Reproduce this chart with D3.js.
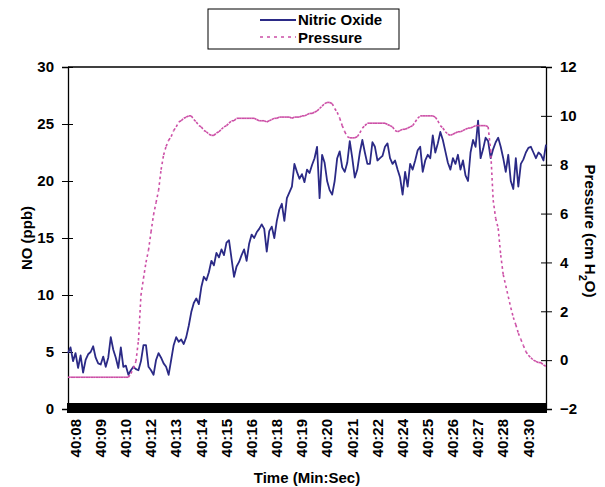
<!DOCTYPE html>
<html>
<head>
<meta charset="utf-8">
<script src="https://cdn.jsdelivr.net/npm/d3@7"></script>
<style>
  body { margin: 0; background: #fff; }
  svg { display: block; font-family: "Liberation Sans", Arial, sans-serif; font-weight: bold; }
</style>
</head>
<body>
<svg id="chart" width="605" height="487"></svg>
<script>
// NO readings (ppb), one per sample
const noValues = [
  4.9,5.4,4.2,4.9,3.6,4.7,3.2,4.3,4.8,5.0,
  5.5,4.5,4.0,3.9,4.6,3.7,4.5,6.3,5.2,4.5,
  3.6,5.4,3.7,3.8,3.0,3.4,3.7,3.5,3.4,4.2,
  5.6,5.6,3.7,3.4,3.0,4.3,4.9,4.5,4.0,3.7,
  3.0,4.3,5.6,6.3,5.9,6.1,5.7,6.3,7.3,8.5,
  9.3,9.7,9.2,10.7,11.6,11.3,12.0,13.0,12.6,13.7,
  13.3,14.0,13.5,14.6,14.8,13.2,11.6,12.5,12.9,13.5,
  14.0,13.0,14.5,15.3,15.0,15.5,15.8,16.2,15.8,13.8,
  15.6,16.0,15.0,16.5,17.5,18.0,16.5,18.5,19.0,19.5,
  21.5,20.8,20.2,20.6,19.9,21.0,20.7,21.4,22.0,23.0,
  18.5,22.3,21.6,20.0,19.2,18.8,20.0,22.0,22.6,21.2,
  20.8,21.6,23.5,22.0,20.3,21.0,22.5,23.6,22.5,21.5,
  21.5,23.4,23.0,21.8,22.0,22.2,23.0,23.3,22.0,21.5,
  21.8,21.0,20.3,18.8,20.8,19.5,21.5,21.0,21.8,22.7,
  23.0,20.8,21.8,22.3,22.0,24.0,22.5,23.3,24.3,23.6,
  22.6,21.6,21.0,22.0,21.5,22.3,21.0,21.8,20.5,20.0,
  22.5,23.6,23.0,25.3,22.0,22.8,23.8,23.5,22.0,22.8,
  23.4,23.8,23.0,22.0,20.8,22.3,20.0,19.3,22.0,19.5,
  21.5,21.9,22.5,22.9,23.0,22.5,22.0,22.5,22.3,21.8,23.2
];

// Pressure readings (cm H2O), same samples
const pressureValues = [
  -0.7,-0.7,-0.7,-0.7,-0.7,-0.7,-0.7,-0.7,-0.7,-0.7,
  -0.7,-0.7,-0.7,-0.7,-0.7,-0.7,-0.7,-0.7,-0.7,-0.7,
  -0.7,-0.7,-0.7,-0.7,-0.7,-0.55,-0.33,-0.05,0.8,2.65,
  3.35,4.0,4.5,5.25,5.95,6.45,6.95,7.8,8.4,8.75,
  9.0,9.15,9.4,9.55,9.75,9.8,9.9,9.95,10.0,10.0,
  9.85,9.75,9.6,9.55,9.4,9.35,9.25,9.2,9.2,9.3,
  9.35,9.45,9.55,9.6,9.7,9.8,9.8,9.9,9.9,9.9,
  9.9,9.9,9.9,9.9,9.9,9.85,9.8,9.8,9.8,9.75,
  9.8,9.85,9.9,9.9,9.95,9.95,9.95,9.95,9.95,9.9,
  9.95,9.95,9.95,10.0,10.0,10.05,10.1,10.1,10.15,10.2,
  10.3,10.4,10.5,10.55,10.55,10.5,10.3,10.15,9.9,9.6,
  9.35,9.15,9.1,9.1,9.1,9.15,9.3,9.5,9.6,9.7,
  9.7,9.7,9.7,9.7,9.7,9.7,9.7,9.65,9.6,9.55,
  9.4,9.35,9.4,9.45,9.45,9.5,9.55,9.6,9.75,9.9,
  10.0,10.0,10.0,10.0,10.0,10.0,9.95,9.8,9.6,9.5,
  9.35,9.25,9.2,9.25,9.3,9.35,9.35,9.4,9.45,9.5,
  9.5,9.55,9.6,9.6,9.6,9.6,9.6,9.55,8.6,6.55,
  5.8,5.4,4.3,3.5,3.05,2.6,2.15,1.75,1.45,1.1,
  0.85,0.6,0.35,0.2,0.1,0.0,-0.05,-0.1,-0.1,-0.2,-0.25
];

const timeLabels = ["40:08","40:09","40:10","40:12","40:13","40:14","40:15","40:16","40:18","40:19",
                    "40:20","40:21","40:22","40:24","40:25","40:26","40:27","40:28","40:30"];
// sample index at which each time label sits
const labelIdx = [2.8,12.8,22.8,32.8,42.8,52.8,62.8,72.8,82.8,92.8,
                  102.8,112.8,122.8,132.8,142.8,152.8,162.8,172.8,182.8];
const noTicks = [0,5,10,15,20,25,30];
const pTicks = [-2,0,2,4,6,8,10,12];

const noColor = "#2b2a86";
const pColor = "#cc4fa6";

const plotL = 68, plotR = 546, plotT = 67, plotB = 409;

const svg = d3.select("#chart");

var x = d3.scaleLinear().domain([0, noValues.length - 1]).range([plotL, plotR]);
var yL = d3.scaleLinear().domain([0, 30]).range([plotB, plotT]);
var yR = d3.scaleLinear().domain([-2, 12]).range([plotB, plotT]);

// top border
svg.append("line")
    .attr("x1", plotL).attr("x2", plotR)
    .attr("y1", plotT).attr("y2", plotT)
    .attr("stroke", "#000").attr("stroke-width", 1.3);

// left axis
var gl = svg.append("g")
    .attr("transform", "translate(" + plotL + ",0)")
    .call(d3.axisLeft(yL).tickValues(noTicks).tickSize(6).tickPadding(8));
gl.selectAll(".tick line").attr("x1", 5);
gl.select(".domain").attr("stroke-width", 1.3);
gl.selectAll("text").style("font-size", "15px").style("font-weight", "bold").attr("fill", "#000");

// right axis
var gr = svg.append("g")
    .attr("transform", "translate(" + plotR + ",0)")
    .call(d3.axisRight(yR).tickValues(pTicks).tickSize(6).tickPadding(8));
gr.selectAll(".tick line").attr("x1", -5);
gr.select(".domain").attr("stroke-width", 1.3);
gr.selectAll("text").style("font-size", "15px").style("font-weight", "bold").attr("fill", "#000");

// dense category ticks along the bottom make a solid band
svg.append("rect")
    .attr("x", plotL - 1).attr("y", plotB - 6)
    .attr("width", plotR - plotL + 2).attr("height", 10)
    .attr("fill", "#000");

// x labels
var gx = svg.append("g")
    .attr("transform", "translate(0," + (plotB + 4) + ")")
    .call(d3.axisBottom(x).tickValues(labelIdx).tickSize(0)
        .tickFormat((d, i) => timeLabels[i]));
gx.select(".domain").remove();
gx.selectAll("text")
    .style("font-size", "15px").style("font-weight", "bold").attr("fill", "#000")
    .attr("text-anchor", "end")
    .attr("transform", "rotate(-90)")
    .attr("x", -6).attr("y", 0).attr("dy", "0.35em");

// NO line
var noLine = d3.line()
    .x((d, i) => x(i))
    .y(d => yL(d));
svg.append("path")
    .datum(noValues)
    .attr("fill", "none")
    .attr("stroke", noColor)
    .attr("stroke-width", 1.8)
    .attr("stroke-linejoin", "round")
    .attr("d", noLine);

// pressure: dotted style restarts on every segment, so short steps look solid
var pLine = d3.line()
    .x(d => x(d[0]))
    .y(d => yR(d[1]));
var pPts = pressureValues.map((v, i) => [i, v]);
svg.append("g")
    .selectAll("path")
    .data(d3.pairs(pPts))
    .join("path")
    .attr("fill", "none")
    .attr("stroke", pColor)
    .attr("stroke-width", 1.6)
    .attr("stroke-dasharray", "2.6,3")
    .attr("d", pLine);

// axis titles
svg.append("text")
    .attr("transform", "translate(32,238) rotate(-90)")
    .attr("text-anchor", "middle")
    .style("font-size", "15px")
    .text("NO (ppb)");

var rt = svg.append("text")
    .attr("transform", "translate(585,231) rotate(90)")
    .attr("text-anchor", "middle")
    .style("font-size", "15px");
rt.append("tspan").text("Pressure (cm H");
rt.append("tspan").attr("baseline-shift", "sub").style("font-size", "11px").text("2");
rt.append("tspan").text("O)");

svg.append("text")
    .attr("x", 307).attr("y", 483)
    .attr("text-anchor", "middle")
    .style("font-size", "15px")
    .text("Time (Min:Sec)");

// legend
svg.append("rect")
    .attr("x", 208).attr("y", 9)
    .attr("width", 191).attr("height", 40)
    .attr("fill", "#fff").attr("stroke", "#000").attr("stroke-width", 1);

var legend = svg.append("g");
legend.append("line")
    .attr("x1", 260).attr("x2", 296).attr("y1", 20).attr("y2", 20)
    .attr("stroke", noColor).attr("stroke-width", 1.8);
legend.append("line")
    .attr("x1", 260).attr("x2", 296).attr("y1", 37).attr("y2", 37)
    .attr("stroke", pColor).attr("stroke-width", 1.6)
    .attr("stroke-dasharray", "3,4");
legend.append("text").attr("x", 298).attr("y", 25).style("font-size", "15px").text("Nitric Oxide");
legend.append("text").attr("x", 298).attr("y", 43).style("font-size", "15px").text("Pressure");
</script>
</body>
</html>
